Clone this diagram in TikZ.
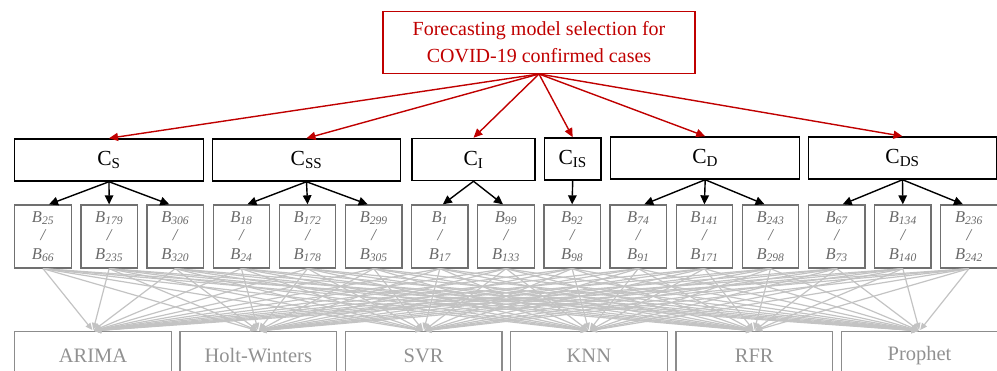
\documentclass[tikz,border=0pt]{standalone}
\usepackage{fontspec}
\setmainfont{Liberation Serif}
\usetikzlibrary{arrows.meta,calc}
\definecolor{redc}{RGB}{192,0,0}
\definecolor{subframe}{RGB}{112,112,112}
\definecolor{subtext}{RGB}{105,105,105}
\definecolor{modframe}{RGB}{140,140,140}
\definecolor{modtext}{RGB}{145,145,145}
\definecolor{linkgray}{RGB}{195,195,195}
\begin{document}
\begin{tikzpicture}[x=1pt,y=-1pt,
  topbox/.style={draw=redc,line width=1.4pt,text=redc,minimum width=312pt,minimum height=62pt,inner sep=0pt,align=center,font=\fontsize{20}{26.5}\selectfont},
  critbox/.style={draw=black,line width=1.5pt,minimum height=42pt,inner sep=0pt,font=\fontsize{21.5}{24}\selectfont},
  subbox/.style={draw=subframe,line width=1.3pt,minimum width=56.5pt,minimum height=63pt,inner sep=0pt,align=center,text=subtext,font=\fontsize{16.5}{18.5}\selectfont\itshape},
  modbox/.style={draw=modframe,line width=1.3pt,minimum width=156.5pt,minimum height=48.5pt,inner sep=0pt,text=modtext,font=\fontsize{20.5}{22}\selectfont},
  redarrow/.style={draw=redc,line width=1.4pt,-{Triangle[length=9pt,width=8pt]}},
  blackarrow/.style={draw=black,line width=1.4pt,-{Triangle[length=9pt,width=8.5pt]}},
  grayarrow/.style={draw=linkgray,line width=1.2pt,-{Triangle[length=7pt,width=6pt]}}
]
\useasboundingbox (0,0) rectangle (997,371);

% goal
\node[topbox] (top) at (539,42.3) {Forecasting model selection for\\COVID-19 confirmed cases};

% criteria
\node[critbox,minimum width=188.6pt] (cS)  at (109,160)   {C\textsubscript{S}};
\node[critbox,minimum width=187.6pt] (cSS) at (306.5,160) {C\textsubscript{SS}};
\node[critbox,minimum width=123pt]   (cI)  at (473.5,159.5) {C\textsubscript{I}};
\node[critbox,minimum width=56.7pt]  (cIS) at (572.7,159) {C\textsubscript{IS}};
\node[critbox,minimum width=189pt]   (cD)  at (705.2,158) {C\textsubscript{D}};
\node[critbox,minimum width=188.4pt] (cDS) at (902.5,158) {C\textsubscript{DS}};

% sub-criteria
\foreach \i/\a/\b in {0/25/66,1/179/235,2/306/320,3/18/24,4/172/178,5/299/305,6/1/17,7/99/133,8/92/98,9/74/91,10/141/171,11/243/298,12/67/73,13/134/140,14/236/242}
  \node[subbox] (b\i) at ({43+66.14*\i},236.5) {B\textsubscript{\a}\\/\\B\textsubscript{\b}};

% alternatives
\foreach \j/\t in {0/ARIMA,1/Holt-Winters,2/SVR,3/KNN,4/RFR,5/Prophet}
  \node[modbox] (m\j) at ({93+165.3*\j},355.75) {\t};

% gray links
\foreach \i in {0,...,14}
  \foreach \j in {0,...,5}
    \draw[grayarrow,shorten >=1pt] (b\i.south) -- (m\j.north);

% red arrows
\foreach \c in {cS,cSS,cI,cIS,cD,cDS}
  \draw[redarrow] (top.south) -- (\c.north);

% black arrows
\draw[blackarrow] (cS.south) -- ([xshift=6pt]b0.north);
\draw[blackarrow] (cS.south) -- (b1.north);
\draw[blackarrow] (cS.south) -- ([xshift=-6pt]b2.north);
\draw[blackarrow] (cSS.south) -- ([xshift=6pt]b3.north);
\draw[blackarrow] (cSS.south) -- (b4.north);
\draw[blackarrow] (cSS.south) -- ([xshift=-6pt]b5.north);
\draw[blackarrow] (cI.south) -- ([xshift=3pt]b6.north);
\draw[blackarrow] (cI.south) -- ([xshift=-3pt]b7.north);
\draw[blackarrow] (cIS.south) -- (b8.north);
\draw[blackarrow] (cD.south) -- ([xshift=6pt]b9.north);
\draw[blackarrow] (cD.south) -- (b10.north);
\draw[blackarrow] (cD.south) -- ([xshift=-6pt]b11.north);
\draw[blackarrow] (cDS.south) -- ([xshift=6pt]b12.north);
\draw[blackarrow] (cDS.south) -- (b13.north);
\draw[blackarrow] (cDS.south) -- ([xshift=-6pt]b14.north);
\end{tikzpicture}
\end{document}
